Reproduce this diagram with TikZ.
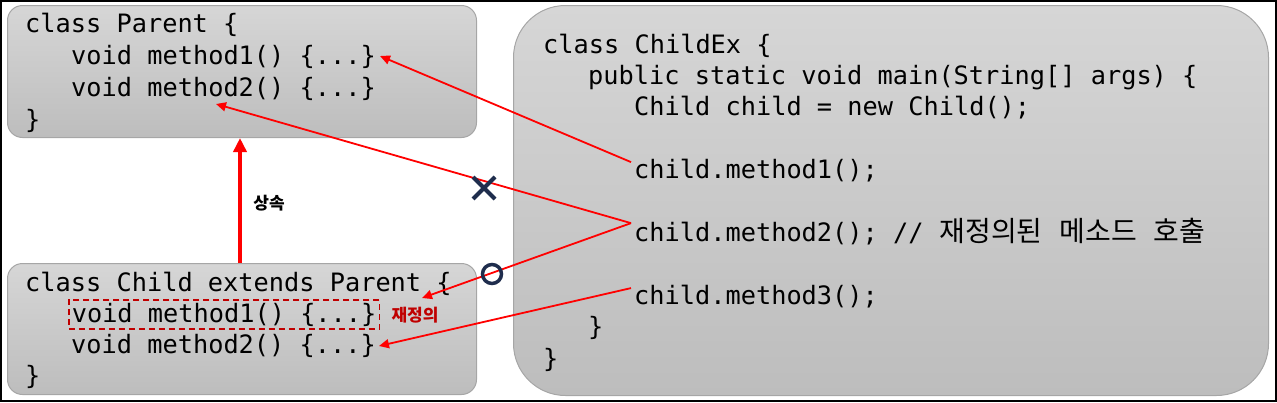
\documentclass[tikz,border=0pt]{standalone}
\usepackage{fontspec}
\newfontfamily\mono{DejaVu Sans Mono}
\newfontfamily\kr{Noto Sans CJK KR}
\usetikzlibrary{arrows.meta,calc,shapes.misc}
\definecolor{boxtop}{HTML}{D6D6D6}
\definecolor{boxbot}{HTML}{BDBDBD}
\definecolor{boxborder}{HTML}{A6A6A6}
\definecolor{navy}{HTML}{1F2D4D}
\definecolor{darkred}{HTML}{C00000}
\newcommand{\krw}[1]{{\kr\fontsize{28}{30}\selectfont #1}}
\begin{document}
\begin{tikzpicture}[x=1pt,y=-1pt,
  codebox/.style={draw=boxborder, line width=1pt, top color=boxtop, bottom color=boxbot, inner sep=0pt, anchor=north west},
  code/.style={anchor=base west, inner sep=3pt, font=\mono\fontsize{25.3}{30}\selectfont, text=black},
  call/.style={draw=red, line width=1.8pt, -{Triangle[length=10pt,width=9pt]}},
  inherit/.style={draw=red, line width=4pt, -{Triangle[length=14pt,width=13pt]}},
  signmark/.style={draw=navy, line width=4pt, inner sep=0pt},
  dashbox/.style={draw=darkred, line width=1.6pt, dash pattern=on 6pt off 4pt},
  lbl/.style={font=\kr\bfseries\fontsize{17}{20}\selectfont, inner sep=0pt}
]
\useasboundingbox (0,0) rectangle (1277,402);
\draw[line width=2pt] (1,1) rectangle (1276,401);

% boxes
\node (pbox) [codebox, rounded corners=15pt, minimum width=469pt, minimum height=132pt] at (7,5) {};
\node (cbox) [codebox, rounded corners=15pt, minimum width=469pt, minimum height=131pt] at (7,263) {};
\node (mbox) [codebox, rounded corners=52pt, minimum width=755pt, minimum height=390pt] at (513,5) {};

% Parent
\node (p0) [code] at (22,32) {class Parent \{};
\node (pm1) [code] at (68,64) {void method1() \{...\}};
\node (pm2) [code] at (68,96) {void method2() \{...\}};
\node (p3) [code] at (22,128) {\}};

% Child
\node (c0) [code] at (22,291) {class Child extends Parent \{};
\node (cm1) [code, dashbox] at (68,322) {void method1() \{...\}};
\node (cm2) [code] at (68,353) {void method2() \{...\}};
\node (c3) [code] at (22,384) {\}};

% ChildEx
\node (m0) [code] at (540,53) {class ChildEx \{};
\node (m1) [code] at (585,84) {public static void main(String[] args) \{};
\node (m2) [code] at (631,115) {Child child = new Child();};
\node (k1) [code] at (631,178) {child.method1();};
\node (k2) [code] at (631,241) {child.method2(); //\hspace{16pt}\krw{재정의된}\hspace{17pt}\krw{메소드}\hspace{17pt}\krw{호출}};
\node (k3) [code] at (631,304) {child.method3();};
\node (m6) [code] at (585,335) {\}};
\node (m7) [code] at (540,367) {\}};

% labels
\node (inh) [lbl] at (269,203) {상속};
\node (ovr) [lbl, text=darkred] at (415,315) {재정의};

% coordinates
\coordinate (t1) at (380,56);
\coordinate (t2) at (216,104);
\coordinate (t3) at (422,298);
\coordinate (t4) at (379,346);

% connectors
\draw[inherit] (cbox.north -| 240,0) -- (pbox.south -| 240,0);
\draw[call] ($(k1.west)+(0,-8)$) -- (t1);
\draw[call] ($(k2.west)+(0,-8)$) -- (t2);
\draw[call] ($(k2.west)+(0,-8)$) -- (t3);
\draw[call] ($(k3.west)+(0,-8)$) -- (t4);

% marks
\node (xm) [signmark, cross out, minimum size=18pt] at (484,188) {};
\node (om) [signmark, circle, line width=3.5pt, minimum size=19pt] at (492,274) {};
\end{tikzpicture}
\end{document}
